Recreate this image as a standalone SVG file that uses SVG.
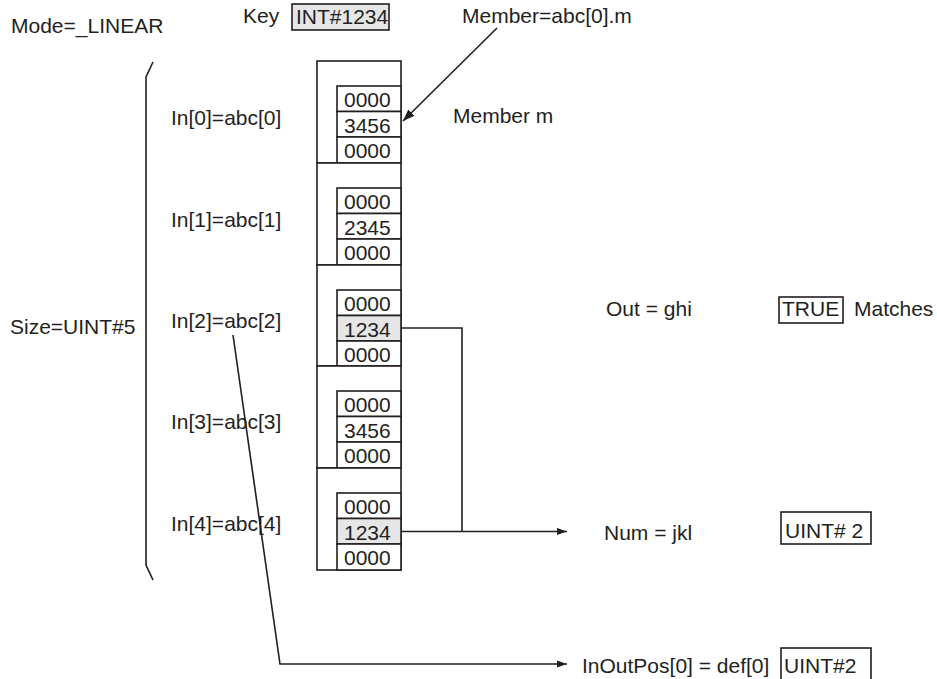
<svg xmlns="http://www.w3.org/2000/svg" width="937" height="679" viewBox="0 0 937 679">
<style>
text{font-family:"Liberation Sans",Arial,sans-serif;font-size:21px;fill:#231f20}
.ln{fill:none;stroke:#231f20;stroke-width:1.6}
.box{fill:#fff;stroke:#231f20;stroke-width:1.6}
.gray{fill:#e6e6e6;stroke:#231f20;stroke-width:1.6}
</style>
<defs>
<marker id="ah" viewBox="0 0 10 10" refX="10" refY="5" markerWidth="10" markerHeight="10" markerUnits="userSpaceOnUse" orient="auto">
<path d="M0,1.5 L10,5 L0,8.5 z" fill="#231f20"/>
</marker>
<marker id="ah2" viewBox="0 0 12 10" refX="12" refY="5" markerWidth="12" markerHeight="10" markerUnits="userSpaceOnUse" orient="auto">
<path d="M0,0.5 L12,5 L0,9.5 z" fill="#231f20"/>
</marker>
</defs>
<g id="mode"><text x="11" y="33">Mode=_LINEAR</text></g>
<g id="key"><text x="243" y="23">Key</text><rect class="gray" x="292" y="4" width="97" height="26"/><text x="296" y="24">INT#1234</text></g>
<g id="member-label"><text x="462" y="23">Member=abc[0].m</text></g>
<g id="member-m"><text x="453" y="123">Member m</text></g>
<g id="size"><text x="10" y="334">Size=UINT#5</text><path class="ln" d="M153,62 L146,77 L146,565 L153,580"/></g>
<g id="labels">
<text x="171" y="125">In[0]=abc[0]</text>
<text x="171" y="227">In[1]=abc[1]</text>
<text x="171" y="328">In[2]=abc[2]</text>
<text x="171" y="429">In[3]=abc[3]</text>
<text x="171" y="531">In[4]=abc[4]</text>
</g>
<g id="seg0">
<rect class="box" x="317" y="61" width="84" height="102"/>
<rect class="box" x="337" y="86" width="64" height="25.5"/><text x="344" y="107">0000</text>
<rect class="box" x="337" y="111.5" width="64" height="25.5"/><text x="344" y="132.5">3456</text>
<rect class="box" x="337" y="137" width="64" height="26"/><text x="344" y="158">0000</text>
</g>
<g id="seg1">
<rect class="box" x="317" y="163" width="84" height="102"/>
<rect class="box" x="337" y="188" width="64" height="25.5"/><text x="344" y="209">0000</text>
<rect class="box" x="337" y="213.5" width="64" height="25.5"/><text x="344" y="234.5">2345</text>
<rect class="box" x="337" y="239" width="64" height="26"/><text x="344" y="260">0000</text>
</g>
<g id="seg2">
<rect class="box" x="317" y="265" width="84" height="101"/>
<rect class="box" x="337" y="290" width="64" height="25.5"/><text x="344" y="311">0000</text>
<rect class="gray" x="337" y="315.5" width="64" height="25.5"/><text x="344" y="336.5">1234</text>
<rect class="box" x="337" y="341" width="64" height="25"/><text x="344" y="362">0000</text>
</g>
<g id="seg3">
<rect class="box" x="317" y="366" width="84" height="102"/>
<rect class="box" x="337" y="391" width="64" height="25.5"/><text x="344" y="412">0000</text>
<rect class="box" x="337" y="416.5" width="64" height="25.5"/><text x="344" y="437.5">3456</text>
<rect class="box" x="337" y="442" width="64" height="26"/><text x="344" y="463">0000</text>
</g>
<g id="seg4">
<rect class="box" x="317" y="468" width="84" height="102"/>
<rect class="box" x="337" y="493" width="64" height="25.5"/><text x="344" y="514">0000</text>
<rect class="gray" x="337" y="518.5" width="64" height="25.5"/><text x="344" y="539.5">1234</text>
<rect class="box" x="337" y="544" width="64" height="26"/><text x="344" y="565">0000</text>
</g>
<g id="out"><text x="606" y="316">Out = ghi</text><rect class="box" x="779" y="297" width="64" height="26"/><text x="782" y="316">TRUE</text><text x="854" y="316">Matches</text></g>
<g id="num"><text x="604" y="540">Num = jkl</text><rect class="box" x="781" y="512" width="90" height="32"/><text x="785" y="538">UINT# 2</text></g>
<g id="inoutpos"><text x="582" y="673">InOutPos[0] = def[0]</text><rect class="box" x="781" y="648" width="90" height="33"/><text x="784" y="673">UINT#2</text></g>
<g id="connectors">
<path class="ln" d="M497,28 L403,121" marker-end="url(#ah2)"/>
<path class="ln" d="M401,328 L462,328 L462,531.5"/>
<path class="ln" d="M401,531.5 L567,531.5" marker-end="url(#ah)"/>
<path class="ln" d="M233,335 L280,664 L567,664" marker-end="url(#ah)"/>
</g>
</svg>
